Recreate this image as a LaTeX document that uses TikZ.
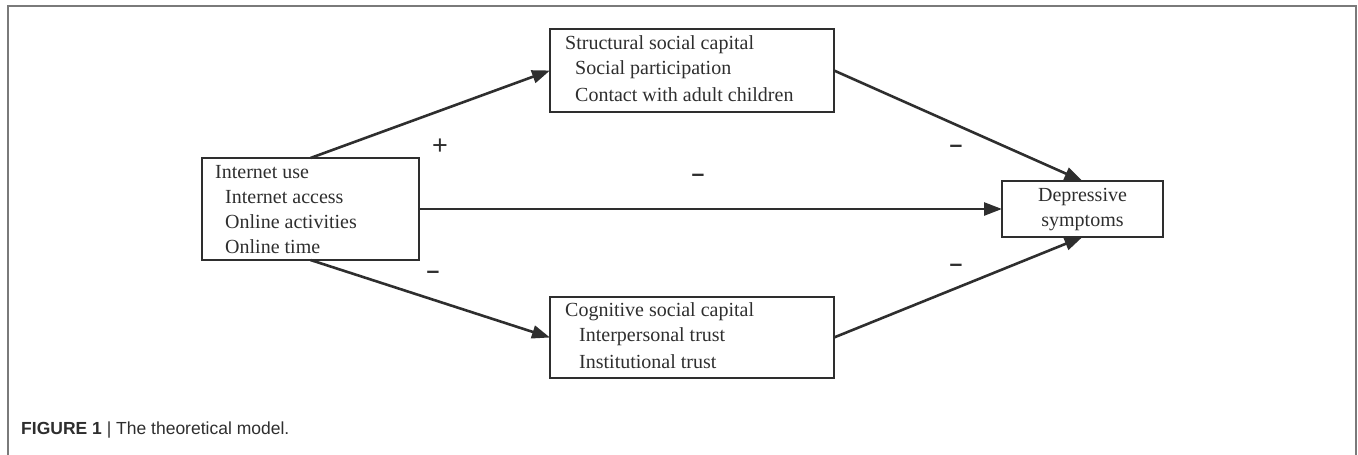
\documentclass[tikz,border=0pt]{standalone}
\usepackage{fontspec}
\setmainfont{Liberation Serif}
\newfontfamily\capfont{Liberation Sans}
\usetikzlibrary{arrows.meta}
\definecolor{ink}{HTML}{2E2E2E}
\definecolor{framegray}{HTML}{7A7A7A}
\tikzset{
  box/.style={draw=ink, line width=2pt, inner sep=0pt, outer sep=0pt},
  lbl/.style={anchor=west, inner sep=0pt, text=ink, font=\fontsize{20}{24}\selectfont},
  ctr/.style={inner sep=0pt, text=ink, font=\fontsize{20}{24}\selectfont},
  conn/.style={draw=ink, line width=2.6pt, -{Triangle[length=18pt,width=13pt]}},
  sign/.style={inner sep=0pt, text=ink, font=\capfont\bfseries\fontsize{23}{23}\selectfont},
  plus/.style={inner sep=0pt, text=ink, font=\capfont\fontsize{27}{27}\selectfont}
}
\begin{document}
\begin{tikzpicture}[x=1pt,y=-1pt]
\useasboundingbox (0,0) rectangle (1358,455);
% frame
\draw[framegray, line width=1.5pt] (8,455) -- (8,6) -- (1356,6) -- (1356,455);
% boxes
\node[box, minimum width=217pt, minimum height=102pt] (iu) at (310.5,209) {};
\node[box, minimum width=284pt, minimum height=83pt] (ssc) at (692,70.5) {};
\node[box, minimum width=284pt, minimum height=81pt] (csc) at (692,337.5) {};
\node[box, minimum width=161pt, minimum height=56pt] (ds) at (1082.5,209) {};
% texts
\node[lbl] (iu1) at (215,172) {Internet use};
\node[lbl] (iu2) at (225,197) {Internet access};
\node[lbl] (iu3) at (225,222) {Online activities};
\node[lbl] (iu4) at (225,247) {Online time};
\node[lbl] (s1) at (565,45) {Structural social capital};
\node[lbl] (s2) at (575,70) {Social participation};
\node[lbl] (s3) at (575,95) {Contact with adult children};
\node[lbl] (c1) at (565,312) {Cognitive social capital};
\node[lbl] (c2) at (579,337) {Interpersonal trust};
\node[lbl] (c3) at (579,362) {Institutional trust};
\node[ctr] (d1) at (1082.5,197) {Depressive};
\node[ctr] (d2) at (1082.5,223) {symptoms};
% connectors
\draw[conn] (iu.north) -- (ssc.west);
\draw[conn] (ssc.east) -- (ds.north);
\draw[conn] (iu.east) -- (ds.west);
\draw[conn] (iu.south) -- (csc.west);
\draw[conn] (csc.east) -- (ds.south);
% signs
\node[plus] (p1) at (440,147) {+};
\node[sign] (m1) at (956,149) {–};
\node[sign] (m2) at (698,178) {–};
\node[sign] (m3) at (433,275) {–};
\node[sign] (m4) at (956,268) {–};
% caption
\node[anchor=west, inner sep=0pt, text=ink, font=\capfont\fontsize{17.5}{20}\selectfont] (cap) at (21,430) {\textbf{FIGURE 1} | The theoretical model.};
\end{tikzpicture}
\end{document}
